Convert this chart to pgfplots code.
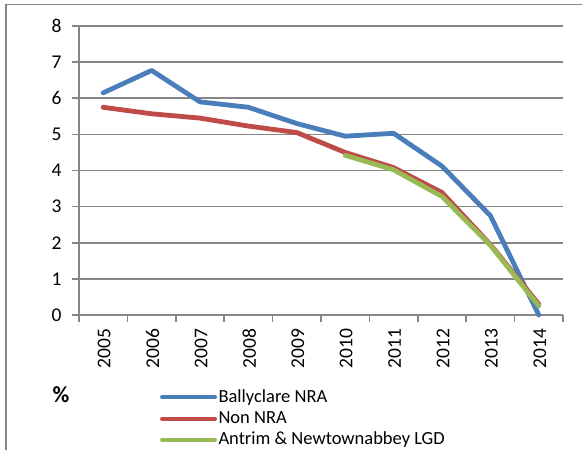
\documentclass[border=0pt]{standalone}
\usepackage{fontspec}
\setmainfont{Carlito}
\usepackage{pgfplots}
\pgfplotsset{compat=1.18}
\definecolor{cblue}{RGB}{74,126,187}
\definecolor{cred}{RGB}{190,75,72}
\definecolor{cgreen}{RGB}{152,185,84}
\definecolor{cgrid}{RGB}{134,134,134}
\begin{document}
\fontsize{19}{23}\selectfont
\begin{tikzpicture}
\path[use as bounding box] (0pt,0pt) rectangle (582pt,450pt);
% outer chart frame (only top and left edges show)
\draw[cgrid, line width=1.5pt] (6pt,0pt) -- (6pt,445.5pt) -- (582pt,445.5pt);
\begin{axis}[
  at={(79pt,135pt)}, anchor=south west,
  scale only axis, width=484pt, height=289pt,
  xmin=0, xmax=10, ymin=0, ymax=8,
  clip=false,
  axis lines*=left,
  axis line style={cgrid, line width=1.6pt, -},
  ymajorgrids, grid style={cgrid, line width=1.6pt},
  xtick={0.5,1.5,...,9.5},
  xticklabels={2005,2006,2007,2008,2009,2010,2011,2012,2013,2014},
  minor xtick={0,1,...,10},
  ytick={0,1,...,8},
  tick align=outside,
  major tick length=7pt, minor tick length=7pt,
  every major x tick/.style={draw=none},
  every minor tick/.style={cgrid, line width=1.6pt},
  every major y tick/.style={cgrid, line width=1.6pt},
  /pgf/number format/assume math mode=true,
  xticklabel style={rotate=90, anchor=east, font=\fontsize{19.5}{23}\selectfont, yshift=-1pt},
  yticklabel style={font=\fontsize{19.5}{23}\selectfont, xshift=-4pt},
  legend style={at={(axis description cs:0.167,-0.252)}, anchor=north west,
    draw=none, fill=none, inner sep=0pt, row sep=3pt,
    font=\fontsize{18.5}{22}\selectfont,
    nodes={inner sep=1.5pt}},
  legend cell align=left,
  legend image code/.code={\draw[#1, line width=4pt, line cap=round] (0pt,0pt) -- (53pt,0pt);},
  every axis plot/.append style={line width=4.8pt, line join=round, line cap=round},
]
\addplot[cblue] coordinates
  {(0.5,6.15) (1.5,6.77) (2.5,5.90) (3.5,5.75) (4.5,5.30) (5.5,4.95) (6.5,5.03) (7.5,4.12) (8.5,2.75) (9.5,0.00)};
\addlegendentry{Ballyclare NRA}
\addplot[cred] coordinates
  {(0.5,5.75) (1.5,5.57) (2.5,5.45) (3.5,5.23) (4.5,5.05) (5.5,4.50) (6.5,4.08) (7.5,3.39) (8.5,1.95) (9.5,0.30)};
\addlegendentry{Non NRA}
\addplot[cgreen] coordinates
  {(5.5,4.42) (6.5,4.02) (7.5,3.28) (8.5,1.93) (9.5,0.25)};
\addlegendentry{Antrim \& Newtownabbey LGD}
\end{axis}
\node[font=\fontsize{23}{27}\selectfont\bfseries] at (61pt,55pt) {\%};
\end{tikzpicture}
\end{document}
